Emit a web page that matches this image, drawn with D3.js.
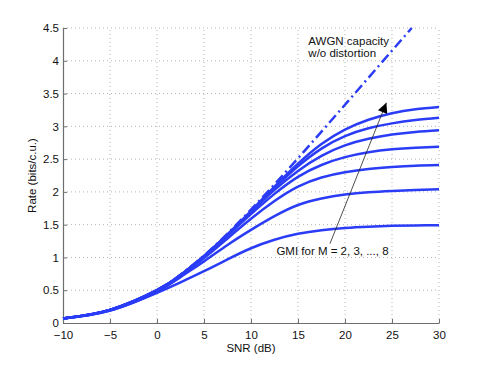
<!DOCTYPE html>
<html>
<head>
<meta charset="utf-8">
<script src="https://cdn.jsdelivr.net/npm/d3@7"></script>
<style>
  body { margin: 0; background: #fff; }
  text { font-family: "Liberation Sans", Arial, Helvetica, sans-serif; fill: #111; }
  .grid line { stroke: #b4b4b4; stroke-dasharray: 1,3; }
</style>
</head>
<body>
<div class="chart"></div>
<script>
// SNR sample points (dB)
const snr = [-10, -5, 0, 2.5, 5, 7.5, 10, 12.5, 15, 17.5, 20, 22.5, 25, 27.5, 30];

// GMI curves, M = 2 .. 8 (bits/c.u.)
const gmiM2 = [0.07, 0.19, 0.46, 0.62, 0.79, 0.97, 1.14, 1.27, 1.36, 1.415, 1.45, 1.47, 1.482, 1.488, 1.492];
const gmiM3 = [0.07, 0.19, 0.48, 0.70, 0.94, 1.19, 1.42, 1.63, 1.80, 1.90, 1.96, 1.995, 2.015, 2.03, 2.04];
const gmiM4 = [0.07, 0.20, 0.49, 0.72, 0.99, 1.29, 1.59, 1.86, 2.08, 2.22, 2.30, 2.35, 2.38, 2.40, 2.41];
const gmiM5 = [0.07, 0.20, 0.50, 0.73, 1.01, 1.33, 1.66, 1.97, 2.23, 2.41, 2.53, 2.605, 2.65, 2.675, 2.69];
const gmiM6 = [0.07, 0.20, 0.50, 0.73, 1.02, 1.34, 1.69, 2.03, 2.32, 2.55, 2.71, 2.81, 2.875, 2.915, 2.94];
const gmiM7 = [0.07, 0.20, 0.50, 0.73, 1.02, 1.35, 1.70, 2.06, 2.39, 2.66, 2.85, 2.97, 3.045, 3.095, 3.13];
const gmiM8 = [0.07, 0.20, 0.50, 0.73, 1.02, 1.35, 1.71, 2.08, 2.43, 2.73, 2.95, 3.10, 3.20, 3.26, 3.295];
const gmiSeries = [gmiM2, gmiM3, gmiM4, gmiM5, gmiM6, gmiM7, gmiM8];

// AWGN capacity without distortion
const awgnSnr = [-10, -5, 0, 2.5, 5, 7.5, 10, 12.5, 15, 17.5, 20, 22.5, 25, 27.1];
const awgnRate = [0.069, 0.198, 0.50, 0.737, 1.029, 1.364, 1.73, 2.115, 2.513, 2.92, 3.329, 3.742, 4.155, 4.50];

// ticks
const xTicks = [-10, -5, 0, 5, 10, 15, 20, 25, 30];
const yTicks = [0, 0.5, 1, 1.5, 2, 2.5, 3, 3.5, 4, 4.5];

// annotation arrow (data coords)
const arrowFrom = [18.4, 1.21];
const arrowTo = [24.4, 3.36];

const svg = d3.select(".chart")
  .append("svg")
    .attr("width", 485)
    .attr("height", 365);

svg.append("defs").append("marker")
  .attr("id", "arrowhead")
  .attr("viewBox", "0 0 10 10")
  .attr("refX", 10)
  .attr("refY", 5)
  .attr("markerUnits", "userSpaceOnUse")
  .attr("markerWidth", 13)
  .attr("markerHeight", 10)
  .attr("orient", "auto")
  .append("path")
    .attr("d", "M0,0 L10,5 L0,10 z")
    .style("fill", "#000");

const x = d3.scaleLinear().domain([-10, 30]).range([63, 439]);
const y = d3.scaleLinear().domain([0, 4.5]).range([323, 28]);

// grid
const grid = svg.append("g").attr("class", "grid");
grid.selectAll(".gx")
  .data(xTicks.slice(1))
  .enter().append("line")
    .attr("x1", d => x(d)).attr("x2", d => x(d))
    .attr("y1", y(0)).attr("y2", y(4.5));
grid.selectAll(".gy")
  .data(yTicks.slice(1))
  .enter().append("line")
    .attr("x1", x(-10)).attr("x2", x(30))
    .attr("y1", d => y(d)).attr("y2", d => y(d));

// axes
const fmtX = d => d < 0 ? "\u2212" + Math.abs(d) : String(d);
const xAxis = svg.append("g")
  .attr("transform", `translate(0,${y(0)})`)
  .call(d3.axisBottom(x).tickValues(xTicks).tickFormat(fmtX).tickSizeInner(-4).tickSizeOuter(0).tickPadding(8));
const yAxis = svg.append("g")
  .attr("transform", `translate(${x(-10)},0)`)
  .call(d3.axisLeft(y).tickValues(yTicks).tickFormat(d3.format("")).tickSizeInner(-4).tickSizeOuter(0).tickPadding(4));
[xAxis, yAxis].forEach(a => {
  a.select(".domain").style("stroke", "#6e6e6e").style("stroke-width", 1.2);
  a.selectAll(".tick line").style("stroke", "#6e6e6e");
  a.selectAll(".tick text").style("font-size", "11.5px").style("fill", "#111")
    .style("font-family", "'Liberation Sans', Arial, sans-serif");
});

// curves
const line = d3.line()
  .curve(d3.curveNatural)
  .x(d => x(d[0]))
  .y(d => y(d[1]));

svg.append("g").selectAll("path")
  .data(gmiSeries)
  .enter().append("path")
    .attr("d", s => line(snr.map((v, i) => [v, s[i]])))
    .style("fill", "none")
    .style("stroke", "#2a3cf6")
    .style("stroke-width", 2.5);

svg.append("path")
  .attr("d", line(awgnSnr.map((v, i) => [v, awgnRate[i]])))
  .style("fill", "none")
  .style("stroke", "#2a3cf6")
  .style("stroke-width", 2.5)
  .style("stroke-dasharray", "10,4,2,4");

// arrow
svg.append("line")
  .attr("x1", x(arrowFrom[0])).attr("y1", y(arrowFrom[1]))
  .attr("x2", x(arrowTo[0])).attr("y2", y(arrowTo[1]))
  .style("stroke", "#222")
  .style("stroke-width", 0.8)
  .attr("marker-end", "url(#arrowhead)");

// annotations
svg.append("text")
  .attr("x", x(12.7)).attr("y", y(1.03))
  .style("font-size", "11.5px")
  .text("GMI for M = 2, 3, ..., 8");
svg.append("text")
  .attr("x", x(16.1)).attr("y", 45)
  .style("font-size", "11.5px")
  .text("AWGN capacity");
svg.append("text")
  .attr("x", x(16.1)).attr("y", 57)
  .style("font-size", "11.5px")
  .text("w/o distortion");

// axis labels
svg.append("text")
  .attr("x", x(10)).attr("y", 352)
  .attr("text-anchor", "middle")
  .style("font-size", "11.5px")
  .text("SNR (dB)");
svg.append("text")
  .attr("transform", `translate(36,${y(2.25)}) rotate(-90)`)
  .attr("text-anchor", "middle")
  .style("font-size", "11.5px")
  .text("Rate (bits/c.u.)");
</script>
</body>
</html>
